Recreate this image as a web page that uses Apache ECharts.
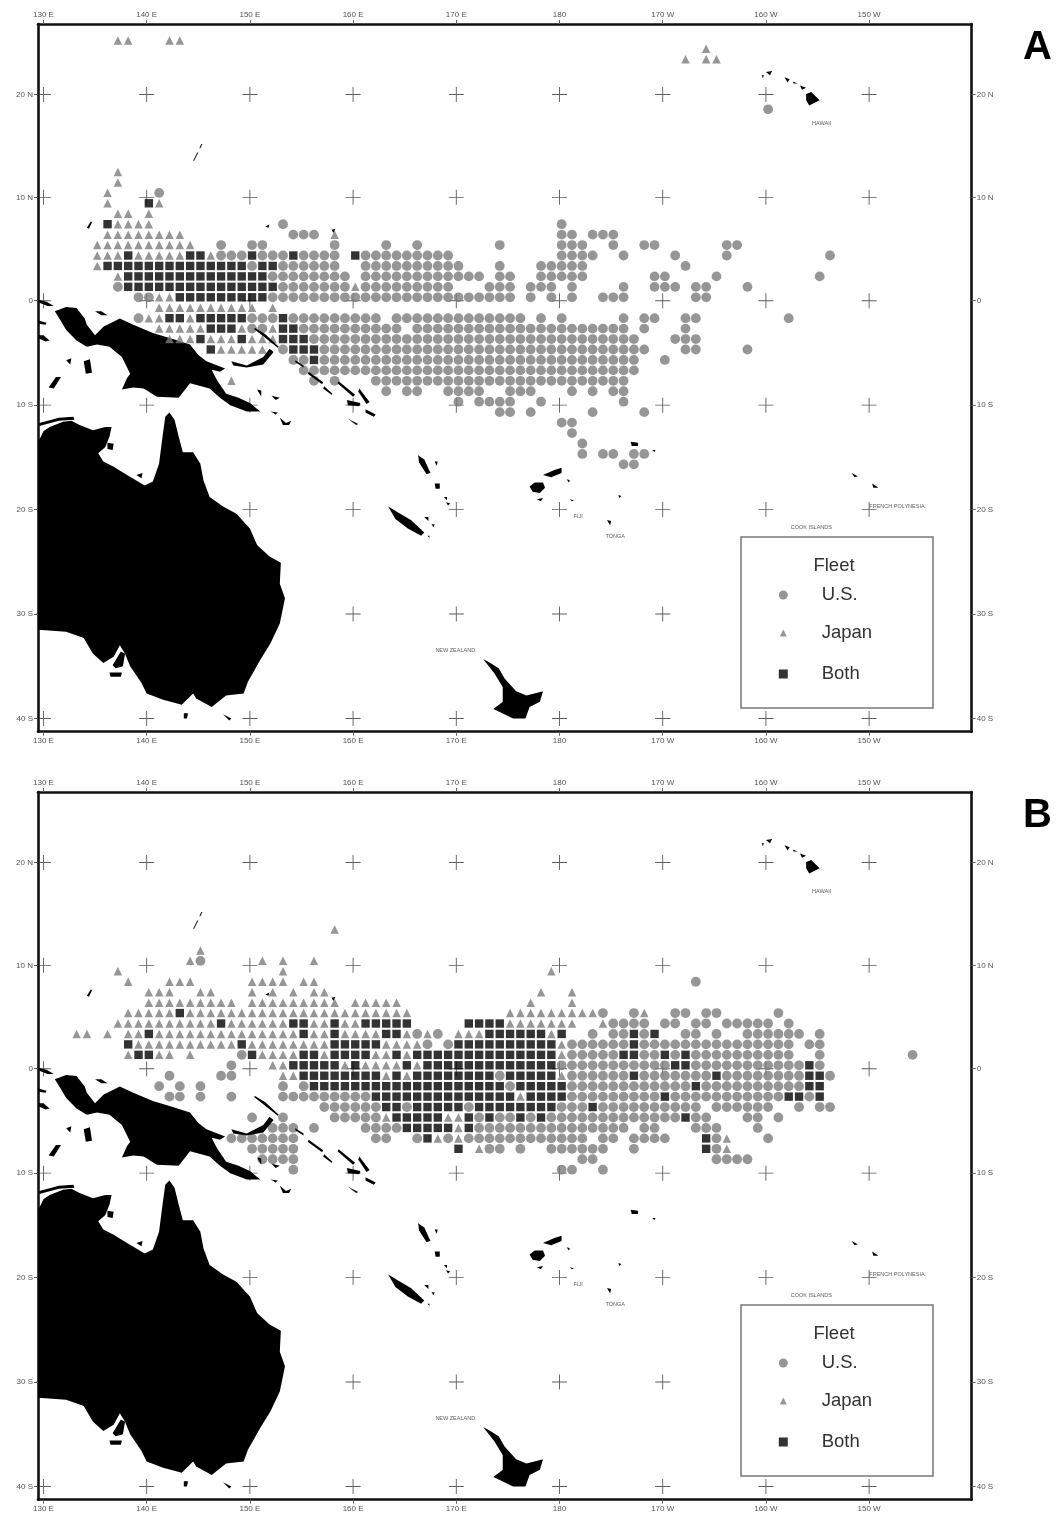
<!DOCTYPE html>
<html><head><meta charset="utf-8">
<style>html,body{margin:0;padding:0;background:#fff}#c{width:1057px;height:1521px;filter:blur(0.4px)}</style>
<script src="https://cdn.jsdelivr.net/npm/echarts@6/dist/echarts.min.js"></script>
</head><body><div id="c"></div>
<script>
// Fleet per 1-degree cell: [latitude cell, "code+longitude runs"]; U = U.S., J = Japan, B = both. Longitudes run 0-360 east.
const rowsA = [
[24.6,"J137-138 J142-143"],[23.8,"J194"],[22.8,"J192 J194-195"],[18,"U200"],
[12,"J137"],[11,"J137"],[10,"J136 U141"],[9,"J136 B140 J141"],[8,"J137-138 J140"],
[7,"B136 J137-140 U153 U180"],
[6,"J136-143 U154-156 J158 U180-181 U183-185"],
[5,"J135-144 U147 U150-151 U158 U163 U166 U174 U180-182 U185 U188-189 U196-197"],
[4,"J135-137 B138 J139-143 B144-145 J146 U147-149 B150 U151-153 B154 U155-158 B160 U161-169 U180-183 U186 U191 U196 U206"],
[3,"J135 B136-149 U150 B151-152 U153-158 U161-170 U174 U178-182 U192"],
[2,"J137 B138-151 U152-159 U161-172 U174-175 U178-182 U189-190 U195 U205"],
[1,"U137 B138-152 U153-159 J160 U161-169 U173-175 U177-179 U181 U186 U189-191 U193-194 U198"],
[0,"U139-140 J141-142 B143-151 U152-175 U177 U179 U181 U184-186 U193-194"],
[-1,"J141-150 J152"],
[-2,"U139 J140-141 B142-143 J144 B145-149 U150-152 B153 U154-162 U164-176 U178 U180 U186 U188-189 U192-193 U202"],
[-3,"J141-145 B146-148 J149 U150-151 J152 B153-154 U155-164 U166-186 U188 U192"],
[-4,"J142-144 B145 J146-148 B149 J150-152 B153-155 U156-187 U191-193"],
[-5,"B146 J147-151 U153 B154-156 U157-188 U192-193 U198"],
[-6,"U154-155 B156 U157-187 U190"],
[-7,"U155-187"],
[-8,"J148 U156 U158 U162-186"],
[-9,"U163 U165-166 U169-172 U175-177 U181 U183 U185-186"],
[-10,"U170 U172-175 U178 U186"],
[-11,"U174-175 U177 U183 U188"],
[-12,"U180-181"],[-13,"U181"],[-14,"U182"],[-15,"U182 U184-185 U187-188"],[-16,"U186-187"]
];
const rowsB = [
[13,"J158"],[11,"J145"],[10,"J144 U145 J151 J153 J156"],[9,"J137 J153 J179"],
[8,"J138 J142-144 J150-153 J155-156 U193"],
[7,"J140-142 J145-146 J150 J152 J154 J156-157 J178 J181"],
[6,"J140-148 J150-158 J160-164 J177 J181"],
[5,"J138-142 B143 J144-165 J175-183 U184 U187 J188 U191-192 U194-195 U201"],
[4,"J137-146 B147 J148-153 B154-155 J156-157 B158 J159-160 B161-165 B171-174 J175-181 J184 U185-188 U190-191 U193-194 U196-200 U202"],
[3,"J133-134 J136 J138-139 B140 J141-154 B155 J156-157 B158 J159-162 B163-164 J165 U166 J167 U168 J170-172 B173-178 J179 B180 U183 U185-186 B187 U188 B189 U192-193 U195 U198-203 U205"],
[2,"B138 J139-148 B149 J150-157 B158-162 J163-166 U167 U169 B170-179 J180 U181-186 B187 U188-202 U204-205"],
[1,"J138 B139-140 J141-142 J144 U149 B150 J151-154 B155-156 J157 B158-161 J162-163 B164 J165 B166-179 J180 U181-185 B186-187 U188-189 B190 U191 B192 U193-202 U205 U214"],
[0,"U148 J152-153 B154-158 J159 B160 J161-164 B165 J166 B167-179 U180-190 B191-192 U193-203 B204 U205"],
[-1,"U142 U147-148 J153-154 B155-162 J163 B164 J165 B166-173 U174 B175-179 J180 U181-186 B187 U188-194 B195 U196-203 B204-205 U206"],
[-2,"U141 U143 U145 U153 U155 B156-174 U175 B176-180 U181-192 B193 U194-203 B204-205"],
[-3,"U142-143 U145 U148 U153-161 B162-175 J176 B177-180 U181-189 B190 U191-201 B202-203 U204 B205"],
[-4,"U157-162 B163-164 U165 B166-170 U171 B172-179 U180-182 B183 U184-193 U195-200 U203 U205-206"],
[-5,"U150 U153 U158-162 J163 B164-168 J169-170 B171 U172 B173 U174-175 B176 U177 B178 U179-191 B192 U193-194 U198-199 U201"],
[-6,"U152-154 U156 U161-164 B165-169 J170 B171 U172-186 U188-189 U193-195 U199"],
[-7,"U148-154 U162-163 U166 B167 J168 U169 J170 U171-182 U184-185 U187-190 B194 U195 J196 U200"],
[-8,"U150-154 B170 J172 U173-174 U176 U179-184 U187 B194 U195 J196"],
[-9,"U151-154 U182-183 U195-198"],
[-10,"U154 U180-181 U184"]
];
// Tick labels (the two northern graticule lines read slightly south of a linear scale)
const lonTicks = [130,140,150,160,170,180,190,200,210];
const lonLabels = ["130 E","140 E","150 E","160 E","170 E","180","170 W","160 W","150 W"];
const latTicks = [19.75,9.9,0,-10,-20,-30,-40];
const latLabels = ["20 N","10 N","0","10 S","20 S","30 S","40 S"];
const crossLons = [130,140,150,160,170,180,190,200,210];
const crossLats = [19.75,9.9,0,-10,-20,-30,-40];
const fleetNames = {U:"U.S.",J:"Japan",B:"Both"};
const placeNames = [[205.4,17.0,"HAWAII"],[212.7,-19.75,"FRENCH POLYNESIA"],[204.4,-21.7,"COOK ISLANDS"],[185.4,-22.6,"TONGA"],[181.8,-20.7,"FIJI"],[169.9,-33.5,"NEW ZEALAND"]];
// Land outlines, lon/lat
const mainland = [
[[129.5,-13.5],[130,-12.5],[130.6,-12.1],[131.9,-11.6],[132.7,-11.5],[133.5,-11.9],[134.8,-12.4],[136,-12.1],[136.6,-12.1],[136.4,-13],[136,-14],[135.3,-14.6],[135.8,-15.4],[136.8,-15.9],[138.1,-16.7],[139.8,-17.7],[140.6,-17.3],[141.2,-15.6],[141.5,-13.3],[141.8,-11.1],[142.2,-10.7],[142.7,-11.4],[143.1,-13],[143.5,-14.5],[144.5,-14.5],[145.2,-15.6],[145.5,-17.2],[146.1,-18.8],[147.4,-19.7],[148.7,-20.4],[150,-21.8],[150.7,-23.4],[151.9,-24.5],[153,-25.1],[152.9,-27.1],[153.4,-28.5],[152.9,-30.9],[152,-32.8],[151,-34.4],[149.8,-36.5],[149.4,-37.6],[147.7,-37.8],[146.3,-38.9],[144.8,-38.1],[144.5,-37.6],[143.4,-38.7],[141.6,-38.2],[140,-37.6],[139.5,-36.6],[138.4,-35],[137.9,-33.8],[137.4,-33],[136.8,-34.1],[135.8,-34.7],[134.8,-33.8],[133.9,-32.3],[132.2,-31.7],[129.5,-31.5]],
[[131.1,-1],[132.2,-0.6],[133.2,-0.7],[134,-1.7],[134.2,-2.3],[135,-3.3],[135.8,-2.5],[137.4,-1.7],[138.7,-2.3],[140.6,-3.1],[142.3,-3.6],[144.2,-4.2],[145,-5.2],[145.8,-5.8],[147.6,-6.5],[147.1,-6.8],[146.3,-6.6],[146.8,-7.6],[147.7,-8.9],[148.9,-9.3],[150,-9.8],[151,-10.6],[149.7,-10.6],[148.1,-10],[147.1,-9.3],[146.1,-8.4],[144.2,-7.9],[143.1,-9.3],[141,-9.2],[139.7,-8.4],[138.7,-8.3],[137.6,-8.5],[138.1,-7.4],[138.4,-7],[137.6,-5.4],[136.4,-4.4],[135.2,-4.2],[134.2,-4.4],[133.2,-3.8],[132.2,-2.8],[131.6,-1.8]],
[[172.6,-34.3],[173.3,-34.7],[174.1,-35.2],[174.7,-36.2],[175.8,-37.4],[176.8,-37.8],[178.4,-37.4],[178.1,-38.4],[177.1,-38.9],[176.7,-40],[175.5,-40],[173.6,-39.1],[174.5,-38.4],[174.5,-37],[173.7,-35.7]],
[[129.6,-11.7],[131.5,-11.2],[132.9,-11.1],[133,-11.4],[131.5,-11.5],[129.6,-12]],
[[136.2,-13.6],[136.8,-13.7],[136.7,-14.3],[136.2,-14.2]],
[[139,-16.7],[139.6,-16.5],[139.5,-17]],
[[136.4,-35.6],[137.6,-35.6],[137.5,-36],[136.5,-36]],
[[136.7,-34.9],[137.5,-33.6],[137.9,-33.8],[137.7,-35],[137,-35.2]],
[[143.6,-39.5],[144,-39.5],[143.9,-40],[143.6,-40]],
[[147.4,-39.6],[148.2,-40],[148,-40.2]],
[[129.5,0.1],[130.3,-0.1],[131,-0.5],[130.4,-0.5],[129.6,-0.2]],
[[129.5,-1.9],[130.3,-2.1],[130.2,-2.3],[129.5,-2.2]],
[[129.5,-3.3],[130,-3.3],[130.6,-3.8],[130.2,-3.9],[129.5,-3.6]],
[[133.9,-5.8],[134.5,-5.6],[134.7,-6.9],[134.1,-7]],
[[130.5,-8.3],[131.2,-7.3],[131.7,-7.3],[131,-8.4]],
[[132.2,-5.7],[132.7,-5.5],[132.6,-6.1]]
];
const islands = [
[[135,-1],[135.6,-1],[136.2,-1.4],[135.6,-1.4]],
[[148.2,-5.8],[149.7,-6.2],[151.3,-5.4],[151.9,-4.6],[152.3,-4.9],[151.3,-6.1],[149.7,-6.4],[148.4,-6.2]],
[[150.5,-2.6],[151.5,-3.2],[152.8,-4.4],[152.7,-4.5],[151.3,-3.4],[150.4,-2.7]],
[[150.7,-8.5],[151.1,-8.6],[151.1,-9.2]],[[152.1,-9.1],[152.9,-9.3],[152.5,-9.5]],[[152,-10.6],[152.7,-10.7],[152.5,-10.9]],
[[152.9,-11.2],[153.5,-11.7],[154,-11.5],[153.8,-11.9],[153.2,-11.9]],
[[154.4,-5.7],[155.2,-6.2],[155.2,-6.4],[154.4,-5.9]],
[[155.7,-6.8],[157.1,-7.8],[157,-8],[155.6,-7]],
[[157.2,-8.2],[158,-8.9],[157.9,-9],[157.1,-8.4]],
[[158.6,-7.7],[160.2,-9],[160,-9.2],[158.5,-7.9]],
[[160.6,-8.4],[161.6,-9.7],[161.3,-9.9],[160.5,-8.7]],
[[159.4,-9.5],[160.7,-9.8],[160.6,-10.1],[159.5,-10]],
[[161.2,-10.4],[162.2,-10.9],[162,-11.1],[161.2,-10.7]],
[[159.5,-11.3],[160.5,-11.8],[160.3,-11.9]],
[[166.3,-14.8],[166.9,-15.2],[167.5,-16.5],[167.1,-16.6],[166.4,-15.5]],
[[167.9,-15.4],[168.2,-15.4],[168.1,-15.8]],[[167.9,-17.5],[168.4,-17.5],[168.4,-18],[168,-18]],
[[168.8,-18.8],[169.1,-18.8],[169.1,-19.1]],[[169,-19.3],[169.4,-19.4],[169.2,-19.6]],
[[163.4,-19.7],[164.4,-20.3],[165.6,-21],[166.9,-22.2],[166.6,-22.5],[165.3,-21.8],[164.1,-20.9]],
[[166.9,-20.7],[167.3,-20.7],[167.3,-21.1]],[[167.6,-21.4],[167.9,-21.4],[167.8,-21.7]],[[167.2,-22.5],[167.4,-22.5],[167.4,-22.7]],
[[177.1,-17.8],[177.6,-17.4],[178.4,-17.4],[178.6,-17.9],[178.1,-18.4],[177.4,-18.3]],
[[178.4,-16.7],[179.5,-16.2],[180.2,-16],[180.2,-16.5],[179.2,-16.9]],
[[177.8,-19],[178.4,-18.9],[178.2,-19.2]],[[180.7,-17.1],[181,-17.2],[180.9,-17.4]],[[181,-19],[181.4,-19.1],[181.2,-19.2]],
[[186.9,-13.5],[187.6,-13.6],[187.6,-13.9],[187,-13.9]],[[189,-14.3],[189.3,-14.3],[189.2,-14.5]],
[[184.6,-21],[185,-21.1],[184.9,-21.5]],[[185.7,-18.6],[186,-18.7],[185.8,-18.9]],
[[203.9,19.8],[204.4,20],[205.2,19.2],[204.2,18.7],[203.9,19.2]],[[203.3,20.6],[203.9,20.4],[203.5,20.2]],
[[201.8,21.4],[202.3,21.2],[202.1,20.9]],[[202.6,21],[203.1,20.8],[202.7,20.8]],[[200,21.9],[200.6,22],[200.4,21.6]],[[199.6,21.6],[199.8,21.6],[199.7,21.3]],
[[208.3,-16.5],[208.9,-16.8],[208.6,-16.9]],[[210.3,-17.5],[210.9,-17.9],[210.4,-17.9]],
[[144.5,13.4],[144.9,14.2],[145,14.2],[144.6,13.4]],[[145.1,14.6],[145.3,15],[145.4,15],[145.2,14.6]],
[[134.2,7],[134.6,7.6],[134.7,7.5],[134.4,6.9]],[[151.5,7.1],[151.9,7.3],[151.8,7]],[[157.9,6.8],[158.3,6.9],[158.1,6.5]]
];

// Cell centres as plotted sit slightly inside each 1-degree cell
const cellLon = 0.21, cellLat = 0.33;
function expand(rows){
  const out={U:[],J:[],B:[]};
  rows.forEach(([lat,txt])=>txt.split(' ').forEach(tok=>{
    const code=tok[0], parts=tok.slice(1).split('-').map(Number), to=parts[1]||parts[0];
    for(let l=parts[0];l<=to;l++) out[code].push([l+cellLon,lat+cellLat]);
  }));
  return out;
}
const FONT='"Liberation Sans",Arial,sans-serif';
const lonMin=129.47, lonMax=219.94, latMin=-41.27, latMax=26.5;
const panels=[{top:24,rows:rowsA,letter:'A'},{top:792,rows:rowsB,letter:'B'}];
const grid=[],xAxis=[],yAxis=[],series=[],legend=[],graphic=[],title=[];
const crosses=[]; crossLons.forEach(x=>crossLats.forEach(y=>crosses.push([x,y])));
const crossPath='path://M9.4 0h1.2v9.4H20v1.2h-9.4V20H9.4v-9.4H0V9.4h9.4z';
function polySeries(list,xi,z){
  return {type:'custom',xAxisIndex:xi,yAxisIndex:xi,z,silent:true,data:list.map((_,i)=>[i]),
    renderItem:(p,api)=>({type:'polygon',shape:{points:list[api.value(0)].map(c=>api.coord(c))},style:{fill:'#000'}})};
}
panels.forEach((p,k)=>{
  grid.push({left:38,top:p.top,width:933.7,height:707.7});
  const xi=k*2, dy=p.top-24;
  const lineStyle={color:'#111',width:2.6};
  ['bottom','top'].forEach(pos=>xAxis.push({type:'value',gridIndex:k,position:pos,min:lonMin,max:lonMax,
    axisLine:{show:true,onZero:false,lineStyle},splitLine:{show:false},
    axisTick:{show:true,length:4,customValues:lonTicks,lineStyle:{color:'#666',width:1}},
    axisLabel:{show:true,customValues:lonTicks,margin:5,fontSize:8,color:'#555',fontFamily:FONT,hideOverlap:false,
      formatter:v=>lonLabels[lonTicks.indexOf(v)]}}));
  ['left','right'].forEach(pos=>yAxis.push({type:'value',gridIndex:k,position:pos,min:latMin,max:latMax,
    axisLine:{show:true,onZero:false,lineStyle},splitLine:{show:false},
    axisTick:{show:true,length:4,customValues:latTicks,lineStyle:{color:'#666',width:1}},
    axisLabel:{show:true,customValues:latTicks,margin:5,fontSize:8,color:'#555',fontFamily:FONT,hideOverlap:false,
      formatter:v=>latLabels[latTicks.indexOf(v)]}}));
  series.push({type:'scatter',name:'graticule',xAxisIndex:xi,yAxisIndex:xi,z:1,silent:true,data:crosses,symbol:crossPath,symbolSize:15,itemStyle:{color:'#333'}});
  series.push(polySeries(mainland,xi,2));
  const d=expand(p.rows);
  series.push({type:'scatter',name:fleetNames.U,xAxisIndex:xi,yAxisIndex:xi,z:3,data:d.U,symbol:'circle',symbolSize:9.8,itemStyle:{color:'#7c7c7c'}});
  series.push({type:'scatter',name:fleetNames.J,xAxisIndex:xi,yAxisIndex:xi,z:3,data:d.J,symbol:'triangle',symbolSize:8.5,itemStyle:{color:'#7c7c7c'}});
  series.push({type:'scatter',name:fleetNames.B,xAxisIndex:xi,yAxisIndex:xi,z:3,data:d.B,symbol:'rect',symbolSize:8.4,itemStyle:{color:'#000'}});
  series.push(polySeries(islands,xi,4));
  series.push({type:'scatter',name:'places',xAxisIndex:xi,yAxisIndex:xi,z:4,silent:true,symbolSize:0,data:placeNames,
    label:{show:true,position:'inside',formatter:o=>o.value[2],fontSize:5.5,color:'#333',fontFamily:FONT}});
  // legend box
  graphic.push({type:'rect',z:10,shape:{x:741,y:537+dy,width:192,height:171},style:{fill:'#fff',stroke:'#777',lineWidth:1.5}});
  graphic.push({type:'text',z:11,x:834,y:566+dy,style:{text:'Fleet',fill:'#333',font:'18.5px '+FONT,textAlign:'center',textVerticalAlign:'middle'}});
  [['U.S.','circle',9,594],['Japan','triangle',7,632],['Both','rect',9,673]].forEach(([name,icon,size,y])=>{
    legend.push({z:12,left:783.3-size/2,top:y+dy-9,padding:0,orient:'vertical',selectedMode:false,itemWidth:size,itemHeight:size,
      data:[{name,icon}],textStyle:{fontSize:18.5,color:'#333',fontFamily:FONT,lineHeight:20,height:20,padding:[0,0,0,33.4-size/2]}});
  });
  title.push({text:p.letter,left:1023,top:p.top+4,padding:0,textStyle:{fontSize:40,fontWeight:'bold',color:'#000',fontFamily:FONT}});
});
const chart=echarts.init(document.getElementById('c'),null,{renderer:'canvas',width:1057,height:1521});
chart.setOption({animation:false,backgroundColor:'#fff',title,grid,xAxis,yAxis,series,legend,graphic,tooltip:{show:false}});
</script></body></html>
